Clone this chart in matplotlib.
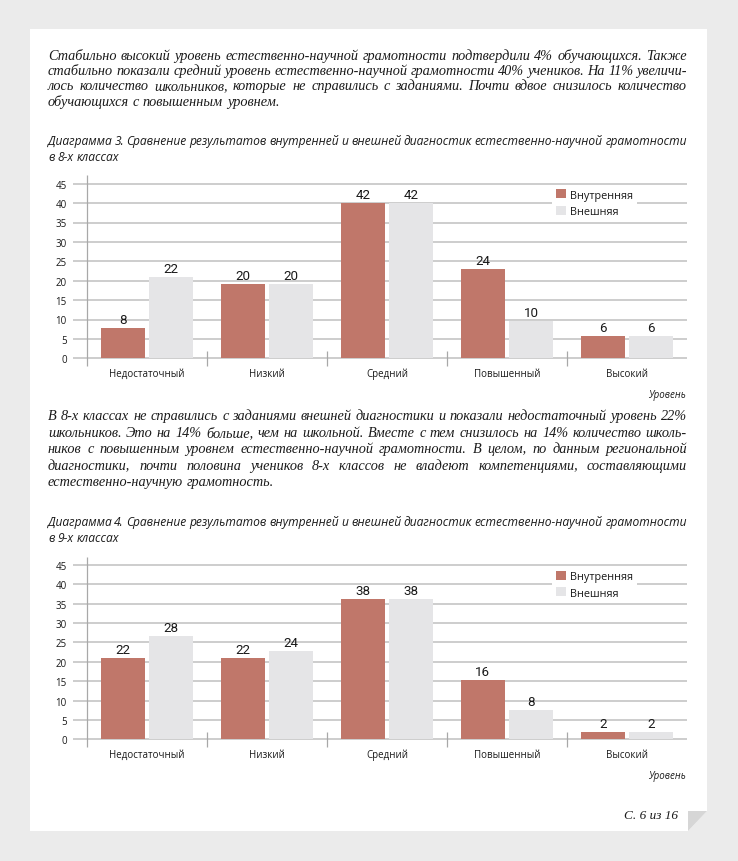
import matplotlib
matplotlib.use('Agg')
import matplotlib.pyplot as plt
from matplotlib.patches import Polygon

# ---------------- data ----------------
categories = ['Недостаточный', 'Низкий', 'Средний', 'Повышенный', 'Высокий']
series_names = ['Внутренняя', 'Внешняя']

# Diagram 3 (8th grade): bar heights as drawn, and printed labels
inner8 = [7.7, 19.1, 40.1, 23.0, 5.8]
outer8 = [21.0, 19.1, 40.1, 9.6, 5.8]
inner8_labels = ['8', '20', '42', '24', '6']
outer8_labels = ['22', '20', '42', '10', '6']

# Diagram 4 (9th grade)
inner9 = [20.9, 20.9, 36.1, 15.2, 1.8]
outer9 = [26.7, 22.8, 36.1, 7.6, 1.8]
inner9_labels = ['22', '22', '38', '16', '2']
outer9_labels = ['28', '24', '38', '8', '2']

yticks = [0, 5, 10, 15, 20, 25, 30, 35, 40, 45]
axis_name = 'Уровень'

para1 = [
    'Стабильно высокий уровень естественно-научной грамотности подтвердили 4% обучающихся. Также',
    'стабильно показали средний уровень естественно-научной грамотности 40% учеников. На 11% увеличи-',
    'лось количество школьников, которые не справились с заданиями. Почти вдвое снизилось количество',
    'обучающихся с повышенным уровнем.',
]
para2 = [
    'В 8-х классах не справились с заданиями внешней диагностики и показали недостаточный уровень 22%',
    'школьников. Это на 14% больше, чем на школьной. Вместе с тем снизилось на 14% количество школь-',
    'ников с повышенным уровнем естественно-научной грамотности. В целом, по данным региональной',
    'диагностики, почти половина учеников 8-х классов не владеют компетенциями, составляющими',
    'естественно-научную грамотность.',
]
title3 = ['Диаграмма 3. Сравнение результатов внутренней и внешней диагностик естественно-научной грамотности',
          'в 8-х классах']
title4 = ['Диаграмма 4. Сравнение результатов внутренней и внешней диагностик естественно-научной грамотности',
          'в 9-х классах']
page_label = 'С. 6 из 16'

# ---------------- styles ----------------
RED = '#c0776a'
GREY = '#e5e5e7'
GRID = '#cdcdcd'
AXL = '#a8a8a8'
TXT = '#1a1a1a'
SANS = ['Open Sans', 'DejaVu Sans']
SERIF = ['Liberation Serif', 'DejaVu Serif']

W, H = 738, 862
fig = plt.figure(figsize=(W / 100, H / 100), dpi=100, facecolor='#ebebeb')
bg = fig.add_axes([0, 0, 1, 1])
bg.set_xlim(0, W)
bg.set_ylim(H, 0)
bg.axis('off')
bg.set_zorder(0)
bg.add_patch(Polygon([(30, 30), (707, 30), (707, 812), (688, 832), (30, 832)],
                     closed=True, fc='white', ec='none'))
bg.add_patch(Polygon([(688, 812), (707, 812), (688, 832)], closed=True, fc='#d6d6d6', ec='none'))

renderer = fig.canvas.get_renderer()


def put_line(text, yc, justify, family, size, style='italic', x0=48, x1=687, color=TXT, weight='normal'):
    words = text.split(' ')
    base = yc + 0.3 * size
    objs = [bg.text(0, base, w, family=family, fontsize=size, style=style, color=color,
                    weight=weight, ha='left', va='baseline') for w in words]
    widths = [o.get_window_extent(renderer).width for o in objs]
    natural = 0.26 * size * 100 / 72
    if justify and len(words) > 1:
        gap = (x1 - x0 - sum(widths)) / (len(words) - 1)
    else:
        gap = natural
    x = x0
    for o, w in zip(objs, widths):
        o.set_x(x)
        x += w + gap


def put_paragraph(lines, y_first, step, family, size, style='italic'):
    for i, ln in enumerate(lines):
        put_line(ln, y_first + i * step, i < len(lines) - 1, family, size, style)


put_paragraph(para1, 57, 15.2, SERIF, 10.3)
put_paragraph(para2, 417, 16.6, SERIF, 10.3)


def make_chart(y45, y0, inner, outer, lab_in, lab_out, title):
    scale = (y0 - y45) / 45.0
    top_px = y45 - 8.5
    bot_px = y0 + 7.7
    # title
    put_line(title[0], y45 - 42.5, True, SANS, 8.65)
    put_line(title[1], y45 - 26.5, False, SANS, 8.65)

    ax = fig.add_axes([73 / W, 1 - bot_px / H, 614 / W, (bot_px - top_px) / H])
    ax.set_zorder(1)
    ax.set_facecolor('none')
    ylo = -(bot_px - y0) / scale
    yhi = 45 + (y45 - top_px) / scale
    ax.set_xlim(-0.5 - 14 / 120, 4.5)
    ax.set_ylim(ylo, yhi)
    for s in ax.spines.values():
        s.set_visible(False)
    ax.set_yticks(yticks)
    ax.set_yticklabels([str(t) for t in yticks], family=SANS, fontsize=7.0, color=TXT)
    ax.yaxis.grid(True, color=GRID, lw=1.4)
    ax.set_axisbelow(True)
    ax.tick_params(axis='y', length=0, pad=4.5)
    x = list(range(len(categories)))
    ax.set_xticks(x)
    ax.set_xticklabels(categories, family=SANS, fontsize=7.0, color=TXT, va='baseline')
    ax.tick_params(axis='x', length=0, pad=7.0)
    ax.vlines([-0.5], ylo, yhi, color=AXL, lw=0.9, clip_on=False)
    ax.vlines([0.5, 1.5, 2.5, 3.5], ylo, 1.96, color=AXL, lw=0.9, clip_on=False)

    bw = 0.363
    off = bw / 2 + 0.02
    b1 = ax.bar([i - off for i in x], inner, width=bw, color=RED, zorder=3, label=series_names[0])
    b2 = ax.bar([i + off for i in x], outer, width=bw, color=GREY, zorder=3, label=series_names[1])
    for bars, labs in ((b1, lab_in), (b2, lab_out)):
        for r, lab in zip(bars, labs):
            ax.annotate(lab, (r.get_x() + r.get_width() / 2, r.get_height()),
                        xytext=(0, 1.5), textcoords='offset points', ha='center', va='bottom',
                        family=['Roboto', 'DejaVu Sans'], fontsize=9.6, color=TXT, zorder=4)

    lx = (552 - 73) / 614
    ly = (bot_px - (y45 + 2.0)) / (bot_px - top_px)
    leg = ax.legend(loc='upper left', bbox_to_anchor=(lx, ly), frameon=True, fancybox=False,
                    edgecolor='none', facecolor='white', framealpha=1,
                    prop={'family': SANS, 'size': 7.8}, handlelength=0.9, handleheight=0.9,
                    handletextpad=0.4, labelspacing=0.5, borderpad=0.35, borderaxespad=0)
    for t in leg.get_texts():
        t.set_color(TXT)
    leg.set_zorder(5)

    bg.text(686, y0 + 36, axis_name, family=SANS, style='italic', fontsize=7.0, color=TXT,
            ha='right', va='center')
    return ax


make_chart(184.7, 359.3, inner8, outer8, inner8_labels, outer8_labels, title3)
make_chart(566.0, 740.3, inner9, outer9, inner9_labels, outer9_labels, title4)

bg.text(678, 816, page_label, family=SERIF, style='italic', fontsize=9.5, color=TXT,
        ha='right', va='center')

fig.savefig('out.png', dpi=100, facecolor=fig.get_facecolor())
